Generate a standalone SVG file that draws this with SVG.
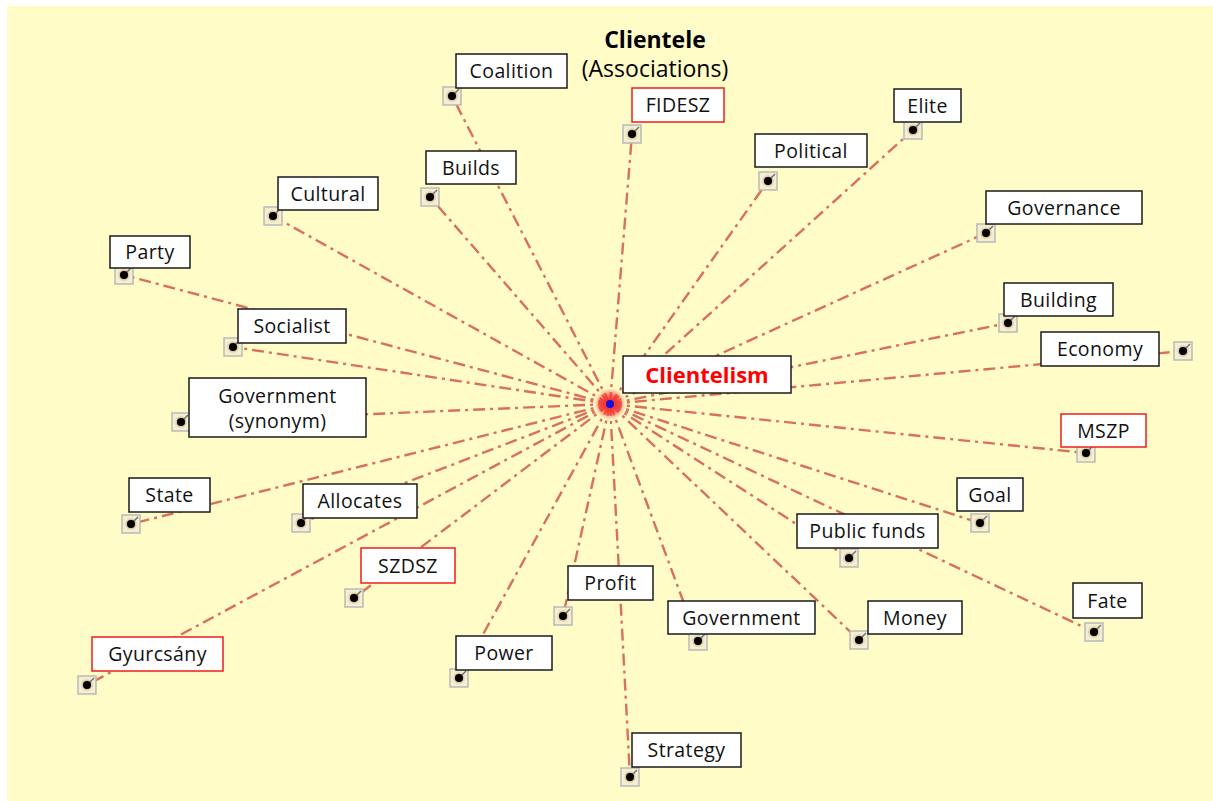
<svg xmlns="http://www.w3.org/2000/svg" xmlns:xlink="http://www.w3.org/1999/xlink" width="1213" height="801" viewBox="0 0 1213 801">
  <style>
    .box { fill: #ffffff; stroke: #1a1a1a; stroke-width: 1.5; }
    .box.hl { stroke: #ee1c1c; }
    .lbl { font-family: "Open Sans", "Liberation Sans", sans-serif; font-size: 19.5px; fill: #111; text-anchor: middle; letter-spacing: 0.4px; }
    .edge { stroke: #d9705c; stroke-width: 2.4; stroke-dasharray: 12 5 3 5; fill: none; }
    .title { font-family: "Open Sans", "Liberation Sans", sans-serif; font-size: 23px; fill: #000; text-anchor: middle; }
  </style>
  <defs>
    <radialGradient id="burst" cx="0.5" cy="0.5" r="0.5">
      <stop offset="0" stop-color="#ff1a1a" stop-opacity="1"/>
      <stop offset="0.6" stop-color="#ff3030" stop-opacity="0.6"/>
      <stop offset="1" stop-color="#ff4040" stop-opacity="0"/>
    </radialGradient>
    <radialGradient id="halo" cx="0.5" cy="0.5" r="0.5">
      <stop offset="0.4" stop-color="#8a3a20" stop-opacity="0.6"/>
      <stop offset="1" stop-color="#e8c9a0" stop-opacity="0"/>
    </radialGradient>
    <!-- anchor pin drawn under each label -->
    <g id="pin">
      <rect x="-9" y="-9" width="18" height="18" fill="#f3efd0" stroke="#b9b9b9" stroke-width="1.5"/>
      <circle r="7" fill="url(#halo)"/>
      <line x1="0" y1="0" x2="7" y2="-7" stroke="#707070" stroke-width="1.5"/>
      <circle r="4" fill="#000"/>
    </g>
  </defs>

  <rect x="7" y="6" width="1206" height="795" fill="#fffcc8"/>

  <text class="title" x="655" y="48" font-weight="bold">Clientele</text>
  <text class="title" x="655" y="77">(Associations)</text>

  <g id="connectors">
    <line class="edge" x1="610" y1="404" x2="452" y2="96"/>
    <line class="edge" x1="610" y1="404" x2="632" y2="134"/>
    <line class="edge" x1="610" y1="404" x2="913" y2="130"/>
    <line class="edge" x1="610" y1="404" x2="768" y2="181"/>
    <line class="edge" x1="610" y1="404" x2="430" y2="197"/>
    <line class="edge" x1="610" y1="404" x2="273" y2="216"/>
    <line class="edge" x1="610" y1="404" x2="986" y2="233"/>
    <line class="edge" x1="610" y1="404" x2="124" y2="275"/>
    <line class="edge" x1="610" y1="404" x2="1008" y2="323"/>
    <line class="edge" x1="610" y1="404" x2="233" y2="347"/>
    <line class="edge" x1="610" y1="404" x2="1183" y2="351"/>
    <line class="edge" x1="610" y1="404" x2="181" y2="422"/>
    <line class="edge" x1="610" y1="404" x2="1086" y2="453"/>
    <line class="edge" x1="610" y1="404" x2="131" y2="524"/>
    <line class="edge" x1="610" y1="404" x2="301" y2="523"/>
    <line class="edge" x1="610" y1="404" x2="980" y2="523"/>
    <line class="edge" x1="610" y1="404" x2="849" y2="558"/>
    <line class="edge" x1="610" y1="404" x2="354" y2="598"/>
    <line class="edge" x1="610" y1="404" x2="563" y2="616"/>
    <line class="edge" x1="610" y1="404" x2="698" y2="641"/>
    <line class="edge" x1="610" y1="404" x2="859" y2="640"/>
    <line class="edge" x1="610" y1="404" x2="1094" y2="632"/>
    <line class="edge" x1="610" y1="404" x2="87" y2="685"/>
    <line class="edge" x1="610" y1="404" x2="459" y2="678"/>
    <line class="edge" x1="610" y1="404" x2="630" y2="777"/>
  </g>

  <g id="hub">
    <circle cx="610" cy="404" r="16" fill="url(#burst)"/>
    <circle cx="610" cy="404" r="4" fill="#1010e0"/>
  </g>

  <g id="n-coalition"><use xlink:href="#pin" x="452" y="96"/><rect class="box" x="456" y="54" width="111" height="34"/><text class="lbl" x="511.5" y="78">Coalition</text></g>
  <g id="n-fidesz"><use xlink:href="#pin" x="632" y="134"/><rect class="box hl" x="632" y="88" width="92" height="34"/><text class="lbl" x="678" y="112">FIDESZ</text></g>
  <g id="n-elite"><use xlink:href="#pin" x="913" y="130"/><rect class="box" x="894" y="89" width="67" height="33"/><text class="lbl" x="927.5" y="113">Elite</text></g>
  <g id="n-political"><use xlink:href="#pin" x="768" y="181"/><rect class="box" x="755" y="134" width="112" height="33"/><text class="lbl" x="811" y="158">Political</text></g>
  <g id="n-builds"><use xlink:href="#pin" x="430" y="197"/><rect class="box" x="426" y="151" width="90" height="33"/><text class="lbl" x="471" y="175">Builds</text></g>
  <g id="n-cultural"><use xlink:href="#pin" x="273" y="216"/><rect class="box" x="278" y="177" width="100" height="33"/><text class="lbl" x="328" y="201">Cultural</text></g>
  <g id="n-governance"><use xlink:href="#pin" x="986" y="233"/><rect class="box" x="986" y="191" width="156" height="33"/><text class="lbl" x="1064" y="215">Governance</text></g>
  <g id="n-party"><use xlink:href="#pin" x="124" y="275"/><rect class="box" x="110" y="236" width="80" height="32"/><text class="lbl" x="150" y="259">Party</text></g>
  <g id="n-building"><use xlink:href="#pin" x="1008" y="323"/><rect class="box" x="1004" y="283" width="109" height="33"/><text class="lbl" x="1058.5" y="307">Building</text></g>
  <g id="n-socialist"><use xlink:href="#pin" x="233" y="347"/><rect class="box" x="238" y="309" width="108" height="34"/><text class="lbl" x="292" y="333">Socialist</text></g>
  <g id="n-economy"><use xlink:href="#pin" x="1183" y="351"/><rect class="box" x="1041" y="332" width="118" height="34"/><text class="lbl" x="1100" y="356">Economy</text></g>
  <g id="n-gov-synonym"><use xlink:href="#pin" x="181" y="422"/><rect class="box" x="189" y="378" width="177" height="59"/><text class="lbl" x="277.5" y="403">Government</text><text class="lbl" x="277.5" y="428">(synonym)</text></g>
  <g id="n-mszp"><use xlink:href="#pin" x="1086" y="453"/><rect class="box hl" x="1061" y="414" width="85" height="33"/><text class="lbl" x="1103.5" y="438">MSZP</text></g>
  <g id="n-state"><use xlink:href="#pin" x="131" y="524"/><rect class="box" x="129" y="478" width="81" height="34"/><text class="lbl" x="169.5" y="502">State</text></g>
  <g id="n-allocates"><use xlink:href="#pin" x="301" y="523"/><rect class="box" x="303" y="484" width="114" height="34"/><text class="lbl" x="360" y="508">Allocates</text></g>
  <g id="n-goal"><use xlink:href="#pin" x="980" y="523"/><rect class="box" x="957" y="478" width="66" height="33"/><text class="lbl" x="990" y="502">Goal</text></g>
  <g id="n-public-funds"><use xlink:href="#pin" x="849" y="558"/><rect class="box" x="797" y="514" width="141" height="34"/><text class="lbl" x="867.5" y="538">Public funds</text></g>
  <g id="n-szdsz"><use xlink:href="#pin" x="354" y="598"/><rect class="box hl" x="361" y="548" width="94" height="35"/><text class="lbl" x="408" y="573">SZDSZ</text></g>
  <g id="n-profit"><use xlink:href="#pin" x="563" y="616"/><rect class="box" x="568" y="566" width="85" height="34"/><text class="lbl" x="610.5" y="590">Profit</text></g>
  <g id="n-government"><use xlink:href="#pin" x="698" y="641"/><rect class="box" x="668" y="601" width="147" height="33"/><text class="lbl" x="741.5" y="625">Government</text></g>
  <g id="n-money"><use xlink:href="#pin" x="859" y="640"/><rect class="box" x="868" y="601" width="94" height="33"/><text class="lbl" x="915" y="625">Money</text></g>
  <g id="n-fate"><use xlink:href="#pin" x="1094" y="632"/><rect class="box" x="1073" y="583" width="69" height="35"/><text class="lbl" x="1107.5" y="608">Fate</text></g>
  <g id="n-gyurcsany"><use xlink:href="#pin" x="87" y="685"/><rect class="box hl" x="92" y="637" width="131" height="34"/><text class="lbl" x="157.5" y="661">Gyurcsány</text></g>
  <g id="n-power"><use xlink:href="#pin" x="459" y="678"/><rect class="box" x="456" y="636" width="96" height="34"/><text class="lbl" x="504" y="660">Power</text></g>
  <g id="n-strategy"><use xlink:href="#pin" x="630" y="777"/><rect class="box" x="632" y="733" width="109" height="34"/><text class="lbl" x="686.5" y="757">Strategy</text></g>

  <g id="n-clientelism"><rect class="box" x="623" y="356" width="168" height="37"/><text x="707" y="383" font-family="Open Sans, Liberation Sans, sans-serif" font-size="22" font-weight="bold" fill="#ff0000" text-anchor="middle">Clientelism</text></g>
</svg>
